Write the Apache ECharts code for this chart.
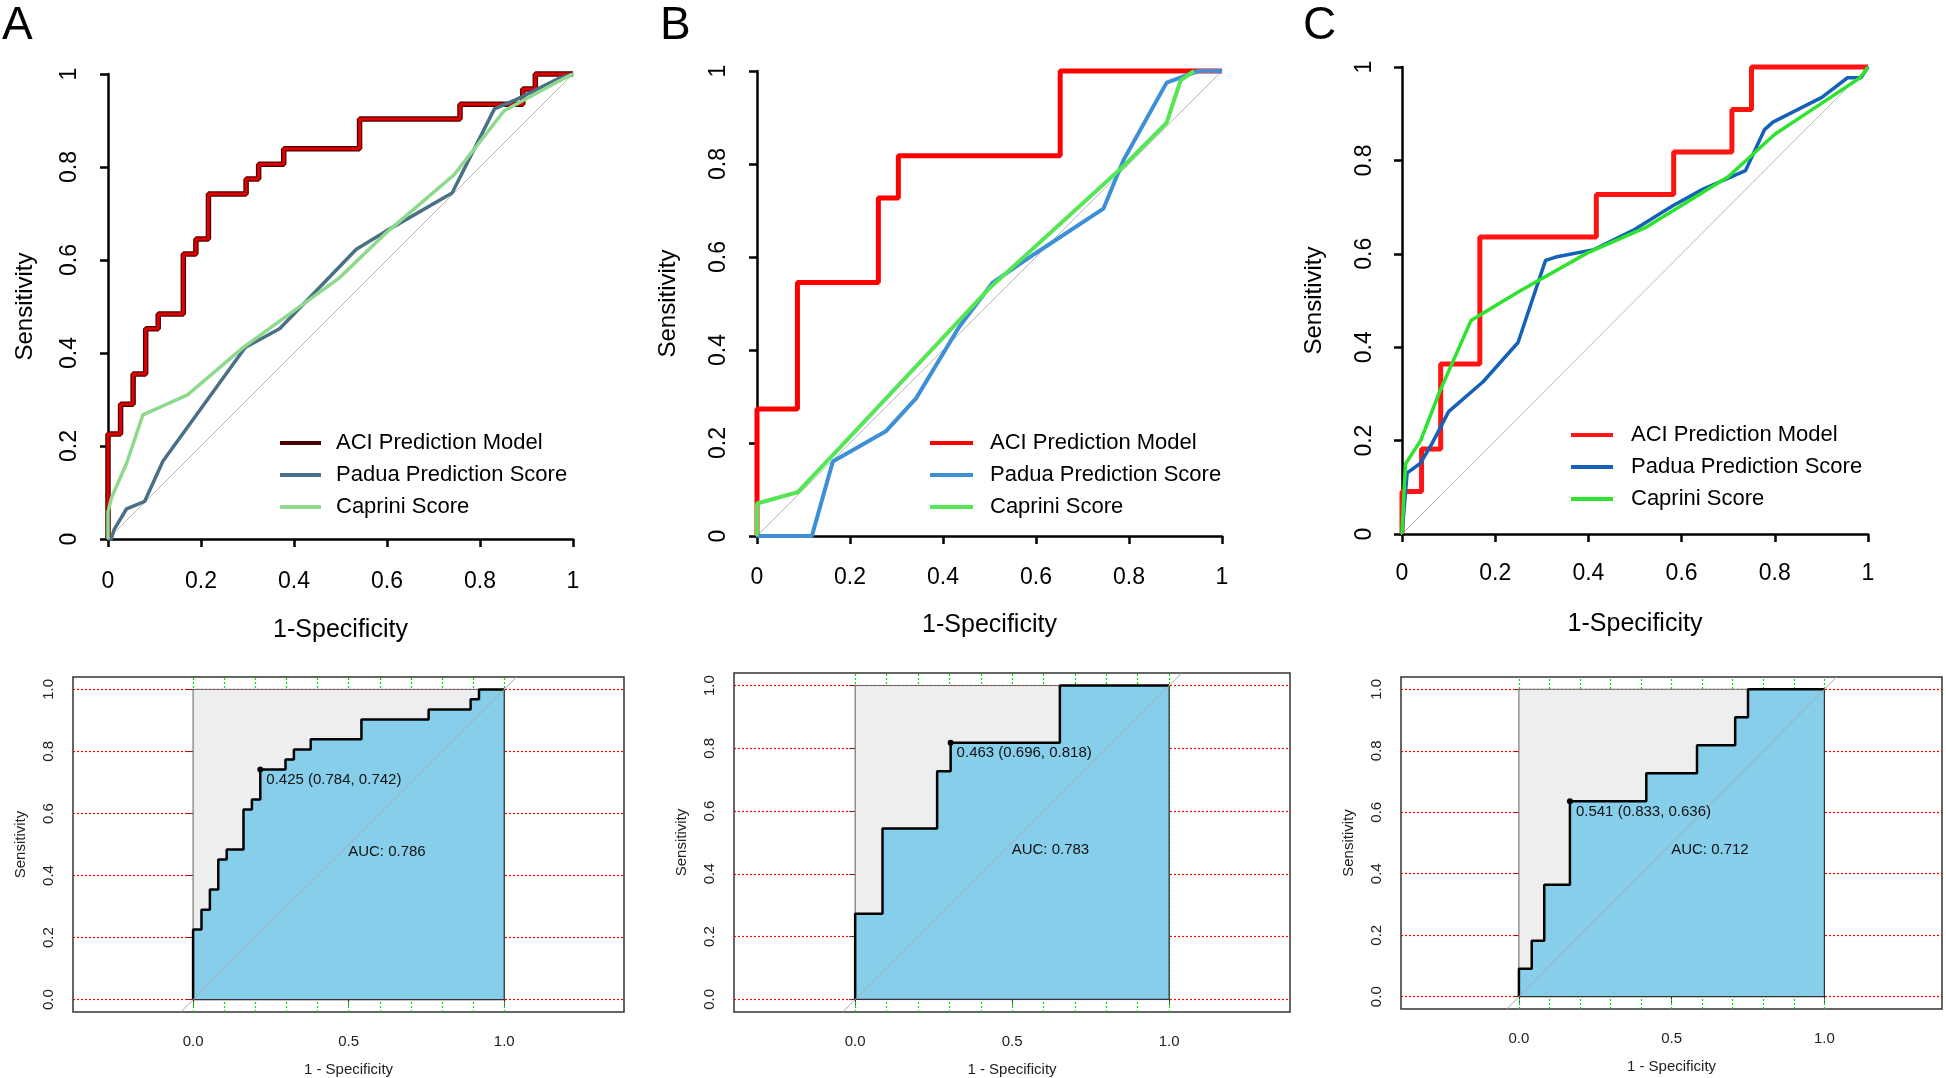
<!DOCTYPE html>
<html><head><meta charset="utf-8">
<script src="https://cdn.jsdelivr.net/npm/echarts@6/dist/echarts.min.js"></script>
<style>html,body{margin:0;padding:0;background:#fff}#c{width:1946px;height:1078px}</style>
</head><body><div id="c"></div>
<script>
// ---------- DATA ----------
const panelLetters = ['A', 'B', 'C'];
const seriesNames = ['ACI Prediction Model', 'Padua Prediction Score', 'Caprini Score'];
const topTicks = [0, 0.2, 0.4, 0.6, 0.8, 1];
const bottomXTicks = [0, 0.5, 1];
const bottomYTicks = [0, 0.2, 0.4, 0.6, 0.8, 1];
const bottomXGrid = [0, 0.1, 0.2, 0.3, 0.4, 0.5, 0.6, 0.7, 0.8, 0.9, 1];

// Panel A
const aciA_fpr = [0, 0, 0.027, 0.054, 0.081, 0.108, 0.162, 0.189, 0.216, 0.297, 0.324, 0.378, 0.541, 0.757, 0.892, 0.919, 1];
const aciA_tpr = [0, 0.226, 0.290, 0.355, 0.452, 0.484, 0.613, 0.645, 0.742, 0.774, 0.806, 0.839, 0.903, 0.935, 0.968, 1, 1];
const paduaA_fpr = [0, 0.007, 0.013, 0.04, 0.079, 0.118, 0.295, 0.369, 0.448, 0.534, 0.596, 0.74, 0.831, 0.88, 0.971, 1];
const paduaA_tpr = [0, 0, 0.02, 0.065, 0.081, 0.167, 0.412, 0.452, 0.534, 0.623, 0.661, 0.744, 0.925, 0.946, 0.991, 1];
const capriniA_fpr = [0, 0, 0.008, 0.04, 0.075, 0.171, 0.291, 0.497, 0.6, 0.744, 0.852, 0.97, 1];
const capriniA_tpr = [0, 0.059, 0.09, 0.163, 0.267, 0.31, 0.412, 0.561, 0.66, 0.783, 0.921, 0.985, 1];

// Panel B
const aciB_fpr = [0, 0, 0.087, 0.261, 0.304, 0.652, 1];
const aciB_tpr = [0, 0.273, 0.545, 0.727, 0.818, 1, 1];
const paduaB_fpr = [0, 0.118, 0.163, 0.278, 0.342, 0.435, 0.507, 0.596, 0.745, 0.788, 0.881, 0.949, 1];
const paduaB_tpr = [0, 0, 0.16, 0.226, 0.296, 0.45, 0.545, 0.606, 0.704, 0.808, 0.975, 1, 1];
const capriniB_fpr = [0, 0, 0.087, 0.163, 0.499, 0.792, 0.881, 0.911, 0.94];
const capriniB_tpr = [0, 0.07, 0.094, 0.174, 0.532, 0.799, 0.889, 0.98, 1];

// Panel C
const aciC_fpr = [0, 0, 0.042, 0.083, 0.167, 0.417, 0.583, 0.708, 0.75, 1];
const aciC_tpr = [0, 0.091, 0.182, 0.364, 0.636, 0.727, 0.818, 0.909, 1, 1];
const paduaC_fpr = [0, 0.005, 0.011, 0.039, 0.064, 0.1, 0.174, 0.249, 0.308, 0.33, 0.412, 0.499, 0.581, 0.645, 0.737, 0.778, 0.796, 0.901, 0.956, 0.985, 1];
const paduaC_tpr = [0, 0.06, 0.131, 0.151, 0.193, 0.262, 0.326, 0.41, 0.586, 0.593, 0.609, 0.652, 0.703, 0.738, 0.778, 0.866, 0.882, 0.935, 0.977, 0.977, 1];
const capriniC_fpr = [0, 0.005, 0.008, 0.04, 0.08, 0.148, 0.252, 0.398, 0.522, 0.7, 0.8, 0.897, 0.983, 1];
const capriniC_tpr = [0, 0.104, 0.151, 0.2, 0.303, 0.457, 0.52, 0.602, 0.656, 0.765, 0.856, 0.92, 0.977, 1];

// Best thresholds and AUCs (bottom row)
const bestThreshold = [0.425, 0.463, 0.541];
const bestSpecificity = [0.784, 0.696, 0.833];
const bestSensitivity = [0.742, 0.818, 0.636];
const aucValues = [0.786, 0.783, 0.712];

// ---------- LAYOUT / STYLE ----------
const FONT = '"Liberation Sans", Arial, sans-serif';
const pair = (xs, ys) => xs.map((x, i) => [x, ys[i]]);
const aciData = [pair(aciA_fpr, aciA_tpr), pair(aciB_fpr, aciB_tpr), pair(aciC_fpr, aciC_tpr)];
const paduaData = [pair(paduaA_fpr, paduaA_tpr), pair(paduaB_fpr, paduaB_tpr), pair(paduaC_fpr, paduaC_tpr)];
const capriniData = [pair(capriniA_fpr, capriniA_tpr), pair(capriniB_fpr, capriniB_tpr), pair(capriniC_fpr, capriniC_tpr)];

const topGrids = [
  {left: 108, top: 74, width: 465, height: 465},
  {left: 757, top: 71, width: 465, height: 465},
  {left: 1402, top: 67, width: 466, height: 467}
];
const bottomGrids = [
  {left: 73, top: 677, width: 551, height: 336},
  {left: 734, top: 673, width: 556, height: 339},
  {left: 1401, top: 677, width: 541, height: 332}
];
const letterPos = [-3, 655, 1298];
const xLabelMargin = [31, 30, 28], xNameGap = [79, 77, 78];
const yLabelMargin = [27, 27, 26], yNameGap = [71, 77, 76];
const legendPos = [
  {left: 275, top: 427, itemWidth: 41, pad: 10},
  {left: 925, top: 427, itemWidth: 43, pad: 12},
  {left: 1566, top: 419, itemWidth: 42, pad: 13}
];
const colors = [
  {aci: '#4d0000', aciInner: '#e00000', padua: '#4a7086', caprini: '#8ed98e', wAci: 5.5, wP: 3.5, wC: 3.5},
  {aci: '#ff0000', padua: '#3d8fd6', caprini: '#55e655', wAci: 5, wP: 4, wC: 4},
  {aci: '#ff1414', padua: '#1560b8', caprini: '#2ee32e', wAci: 5, wP: 3.5, wC: 3.5}
];
const fmtTop = v => String(Math.round(v * 10) / 10);

const grid = [], xAxis = [], yAxis = [], series = [], legend = [], title = [];

panelLetters.forEach((L, p) => {
  title.push({text: L, left: letterPos[p], top: -2,
    textStyle: {fontFamily: FONT, fontSize: 46, fontWeight: 'normal', color: '#000'}});
  grid.push(Object.assign({containLabel: false}, topGrids[p]));
  xAxis.push({
    gridIndex: p, type: 'value', min: 0, max: 1, interval: 0.2,
    axisLine: {show: true, onZero: false, lineStyle: {color: '#000', width: 2.5}},
    axisTick: {show: true, length: 8, lineStyle: {color: '#000', width: 2.5}},
    axisLabel: {formatter: fmtTop, fontSize: 23, color: '#000', fontFamily: FONT, margin: xLabelMargin[p], showMinLabel: true, showMaxLabel: true},
    splitLine: {show: false},
    name: '1-Specificity', nameLocation: 'middle', nameGap: xNameGap[p],
    nameTextStyle: {fontSize: 25, color: '#000', fontFamily: FONT}
  });
  yAxis.push({
    gridIndex: p, type: 'value', min: 0, max: 1, interval: 0.2,
    axisLine: {show: true, onZero: false, lineStyle: {color: '#000', width: 2.5}},
    axisTick: {show: true, length: 8, lineStyle: {color: '#000', width: 2.5}},
    axisLabel: {formatter: fmtTop, fontSize: 23, color: '#000', fontFamily: FONT, rotate: 90, margin: yLabelMargin[p], showMinLabel: true, showMaxLabel: true},
    splitLine: {show: false},
    name: 'Sensitivity', nameLocation: 'middle', nameGap: yNameGap[p],
    nameTextStyle: {fontSize: 24, color: '#000', fontFamily: FONT}
  });
  const c = colors[p];
  const base = {type: 'line', xAxisIndex: p, yAxisIndex: p, symbol: 'none', showSymbol: false, clip: false, animation: false, silent: true};
  series.push(Object.assign({}, base, {name: L + '|diag', data: [[-0.03, -0.03], [1.03, 1.03]], lineStyle: {color: '#b8b8b8', width: 1}}));
  series.push(Object.assign({}, base, {name: L + '|' + seriesNames[0], data: aciData[p], step: 'end', itemStyle: {color: c.aci}, lineStyle: {color: c.aci, width: c.wAci}}));
  if (c.aciInner) {
    series.push(Object.assign({}, base, {name: L + '|aciInner', data: aciData[p], step: 'end', lineStyle: {color: c.aciInner, width: 3}}));
  }
  series.push(Object.assign({}, base, {name: L + '|' + seriesNames[1], data: paduaData[p], itemStyle: {color: c.padua}, lineStyle: {color: c.padua, width: c.wP}}));
  series.push(Object.assign({}, base, {name: L + '|' + seriesNames[2], data: capriniData[p], itemStyle: {color: c.caprini}, lineStyle: {color: c.caprini, width: c.wC}}));
  const lp = legendPos[p];
  legend.push({
    data: seriesNames.map(n => ({name: L + '|' + n, icon: 'rect'})), orient: 'vertical', left: lp.left, top: lp.top,
    itemWidth: lp.itemWidth, itemHeight: 4, itemGap: 10, selectedMode: false,
    formatter: n => n.split('|')[1],
    textStyle: {fontSize: 22, lineHeight: 22, color: '#000', fontFamily: FONT, padding: [0, 0, 0, lp.pad]}
  });
});

// Bottom row
panelLetters.forEach((L, p) => {
  const gi = p + 3;
  grid.push(Object.assign({show: true, borderColor: '#333', borderWidth: 1.5, backgroundColor: 'transparent'}, bottomGrids[p]));
  xAxis.push({
    gridIndex: gi, type: 'value', min: -0.386, max: 1.385,
    axisLine: {show: false},
    axisTick: {show: true, customValues: bottomXTicks, length: 6, lineStyle: {color: '#333', width: 1}},
    axisLabel: {customValues: bottomXTicks, formatter: v => v.toFixed(1), fontSize: 15, color: '#222', fontFamily: FONT, margin: 22},
    splitLine: {show: false},
    name: '1 - Specificity', nameLocation: 'middle', nameGap: 50,
    nameTextStyle: {fontSize: 15, color: '#222', fontFamily: FONT}
  });
  yAxis.push({
    gridIndex: gi, type: 'value', min: -0.04, max: 1.04,
    axisLine: {show: false},
    axisTick: {show: true, customValues: bottomYTicks, length: 6, lineStyle: {color: '#333', width: 1}},
    axisLabel: {customValues: bottomYTicks, formatter: v => v.toFixed(1), rotate: 90, fontSize: 15, color: '#222', fontFamily: FONT, margin: 17},
    splitLine: {show: false},
    name: 'Sensitivity', nameLocation: 'middle', nameGap: 45,
    nameTextStyle: {fontSize: 15, color: '#222', fontFamily: FONT}
  });
  const base = {type: 'line', xAxisIndex: gi, yAxisIndex: gi, symbol: 'none', showSymbol: false, animation: false, silent: true};
  // grid lines (dotted), drawn beneath everything
  series.push(Object.assign({}, base, {
    name: L + '|gridlines', z: 1, data: [[0, 0]], lineStyle: {opacity: 0},
    markLine: {
      z: 1, silent: true, symbol: ['none', 'none'], label: {show: false}, animation: false,
      data: bottomYTicks.map(v => ({yAxis: v, lineStyle: {color: '#ff0000', width: 1.2, type: [2, 2]}}))
        .concat(bottomXGrid.map(v => ({xAxis: v, lineStyle: {color: '#00e000', width: 1.2, type: [2, 2]}})))
    }
  }));
  // light grey max-AUC square
  series.push(Object.assign({}, base, {
    name: L + '|maxpoly', z: 3, data: [[0, 0], [0, 1], [1, 1], [1, 0]],
    lineStyle: {color: '#666', width: 1}, areaStyle: {color: '#eeeeee', opacity: 1, origin: 'auto'}
  }));
  // AUC polygon + ROC curve
  series.push(Object.assign({}, base, {
    name: L + '|aucpoly', z: 4, data: aciData[p], step: 'end',
    lineStyle: {color: '#000', width: 2.5}, areaStyle: {color: '#87ceeb', opacity: 1, origin: 'auto'}
  }));
  series.push(Object.assign({}, base, {
    name: L + '|polyedge', z: 5, data: [[0, 0], [1, 0], [1, 1]], lineStyle: {color: '#333', width: 1.2}
  }));
  // diagonal
  series.push(Object.assign({}, base, {
    name: L + '|diag2', z: 6, data: [[-0.04, -0.04], [1.04, 1.04]], lineStyle: {color: '#aaaaaa', width: 1}
  }));
  // best threshold point with label
  series.push(Object.assign({}, base, {
    name: L + '|best', z: 10, symbol: 'circle', symbolSize: 6, showSymbol: true,
    itemStyle: {color: '#000'}, lineStyle: {width: 0},
    data: [[1 - bestSpecificity[p], bestSensitivity[p]]],
    label: {show: true, position: [9, 6], align: 'left', verticalAlign: 'top',
      formatter: () => bestThreshold[p].toFixed(3) + ' (' + bestSpecificity[p].toFixed(3) + ', ' + bestSensitivity[p].toFixed(3) + ')',
      fontSize: 15, color: '#111', fontFamily: FONT}
  }));
  // AUC text
  series.push(Object.assign({}, base, {
    name: L + '|auc', z: 10, symbol: 'circle', symbolSize: 1, showSymbol: true,
    itemStyle: {color: 'rgba(0,0,0,0)'}, lineStyle: {width: 0},
    data: [[0.5, 0.5]],
    label: {show: true, position: [0, 0], align: 'left', verticalAlign: 'top',
      formatter: () => 'AUC: ' + aucValues[p].toFixed(3), fontSize: 15, color: '#111', fontFamily: FONT}
  }));
});

const chart = echarts.init(document.getElementById('c'), null, {renderer: 'canvas'});
chart.setOption({backgroundColor: '#fff', animation: false, title, grid, xAxis, yAxis, legend, series});
</script></body></html>
